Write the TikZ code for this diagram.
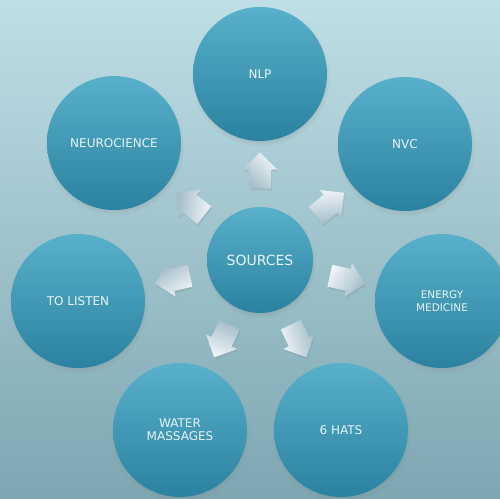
\documentclass[tikz,border=0pt]{standalone}
\usepackage{fontspec}
\setmainfont{DejaVu Sans}
\usetikzlibrary{shapes.arrows,shadows,calc}
\definecolor{bgtop}{HTML}{BFDEE5}
\definecolor{bgbot}{HTML}{7DA7B1}
\definecolor{circtop}{HTML}{58B0CA}
\definecolor{circbot}{HTML}{2A82A0}
\definecolor{txt}{HTML}{E8F4F8}
\definecolor{arrl}{HTML}{F0F5F8}
\definecolor{arrd}{HTML}{A3BCC8}
\tikzset{
  bub/.style={circle, minimum size=134pt, inner sep=0pt, top color=circtop, bottom color=circbot,
    text=txt, font=\fontsize{12}{13.3}\selectfont, align=center,
    circular drop shadow={shadow xshift=0.5pt, shadow yshift=-3pt, shadow scale=1.04, opacity=0.35}},
  barrow/.style={single arrow, minimum height=36pt, single arrow head extend=6pt,
    inner xsep=0pt, inner ysep=11pt, draw=none, top color=arrl, bottom color=arrd,
    drop shadow={shadow xshift=1pt, shadow yshift=-2pt, opacity=0.2}}
}
\begin{document}
\begin{tikzpicture}[x=1pt,y=-1pt]
\useasboundingbox (0,0) rectangle (500,498);
\clip (0,0) rectangle (500,498);
\fill[top color=bgtop, bottom color=bgbot] (0,0) rectangle (500,498);
\node[bub, minimum size=106pt, font=\fontsize{14}{16}\selectfont] (src) at (260,260) {SOURCES};
\node[bub] (nlp) at (260,74) {NLP};
\node[bub] (nvc) at (405,144) {NVC};
\node[bub, font=\fontsize{10.5}{12.7}\selectfont] (energy) at (442,301) {ENERGY\\MEDICINE};
\node[bub] (hats) at (341,430) {6 HATS};
\node[bub] (water) at (180,430) {WATER\\MASSAGES};
\node[bub] (listen) at (78,301) {TO LISTEN};
\node[bub] (neuro) at (114,143) {NEUROCIENCE};
\foreach \t in {nlp,nvc,energy,hats,water,listen,neuro}{
  \path let \p1=($(\t)-(src)$), \n1={atan2(\y1,\x1)}, \n2={45-\n1} in
    node[barrow, rotate=\n1, shading angle=\n2] (a-\t) at ($(src)!84pt!(\t)$) {};
}
\end{tikzpicture}
\end{document}
